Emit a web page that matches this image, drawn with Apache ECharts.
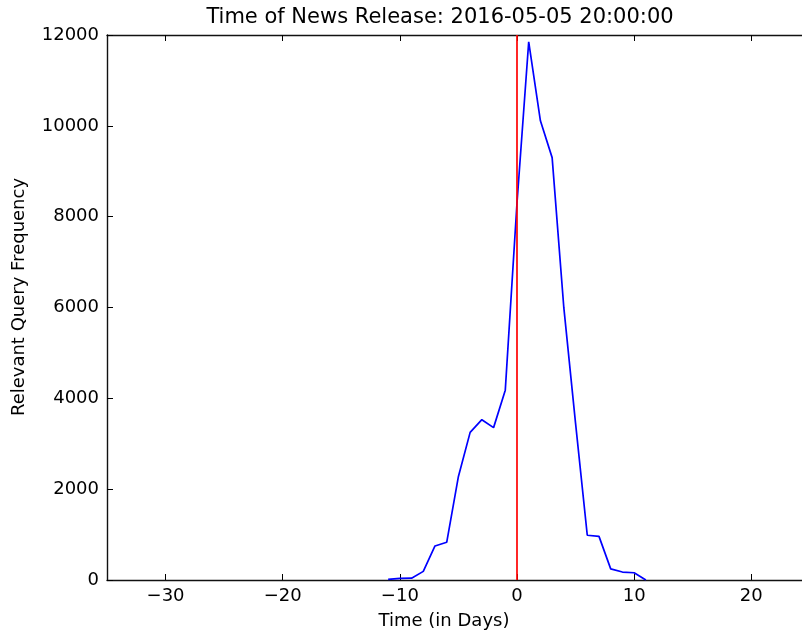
<!DOCTYPE html>
<html><head><meta charset="utf-8">
<script src="https://cdn.jsdelivr.net/npm/echarts@6/dist/echarts.min.js"></script>
<style>html,body{margin:0;padding:0;background:#fff}#c{width:802px;height:634px}</style>
</head><body><div id="c"></div>
<script>
const titleText = 'Time of News Release: 2016-05-05 20:00:00';
const xLabel = 'Time (in Days)';
const yLabel = 'Relevant Query Frequency';
const days = [-11,-10,-9,-8,-7,-6,-5,-4,-3,-2,-1,0,1,2,3,4,5,6,7,8,9,10,11];
const freq = [15,35,40,190,750,830,2280,3250,3530,3355,4180,8300,11850,10110,9300,5990,3450,985,960,245,175,160,0];
const xTicks = [-30,-20,-10,0,10,20];
const releaseDay = 0;
const yMin = 0, yMax = 12000, yStep = 2000;
const xMin = -35, xMax = 24.33;

const FONT = 'DejaVu Sans';
const fmt = v => (v < 0 ? '\u2212' + Math.abs(v) : String(v));
const chart = echarts.init(document.getElementById('c'), null, {renderer:'canvas'});
const axisLine = {show:true, onZero:false, lineStyle:{color:'#111', width:1.4}};
chart.setOption({
  animation:false,
  backgroundColor:'#fff',
  grid:{left:107, top:35, right:0, bottom:54, containLabel:false},
  graphic:[
    {type:'text', x:440, y:7, style:{text:titleText, font:'21px "DejaVu Sans"', fill:'#000', textAlign:'center'}},
    {type:'text', x:444, y:612, style:{text:xLabel, font:'18px "DejaVu Sans"', fill:'#000', textAlign:'center'}},
    {type:'text', x:10, y:297, rotation:Math.PI/2, style:{text:yLabel, font:'18px "DejaVu Sans"', fill:'#000', textAlign:'center', textVerticalAlign:'top'}}
  ],
  xAxis:[
    {type:'value', min:xMin, max:xMax, position:'bottom', axisLine:axisLine, splitLine:{show:false},
     axisTick:{show:true, inside:true, length:6, customValues:xTicks, lineStyle:{color:'#000'}},
     axisLabel:{show:true, customValues:xTicks, formatter:fmt, color:'#000', fontFamily:FONT, fontSize:18, margin:7}},
    {type:'value', min:xMin, max:xMax, position:'top', axisLine:axisLine, splitLine:{show:false},
     axisTick:{show:true, inside:true, length:6, customValues:xTicks, lineStyle:{color:'#000'}},
     axisLabel:{show:false}}
  ],
  yAxis:[
    {type:'value', min:yMin, max:yMax, interval:yStep, position:'left', axisLine:axisLine, splitLine:{show:false},
     axisTick:{show:true, inside:true, length:6, lineStyle:{color:'#000'}},
     axisLabel:{color:'#000', fontFamily:FONT, fontSize:18, margin:8, formatter:v => String(v)}}
  ],
  series:[
    {type:'line', data:days.map((d,i)=>[d,freq[i]]), symbol:'none', lineStyle:{color:'#0000ff', width:1.7}, itemStyle:{color:'#0000ff'}, z:2},
    {type:'line', data:[[releaseDay,yMin],[releaseDay,yMax]], symbol:'none', lineStyle:{color:'#ff0000', width:1.7}, itemStyle:{color:'#ff0000'}, z:3}
  ]
});
</script></body></html>
